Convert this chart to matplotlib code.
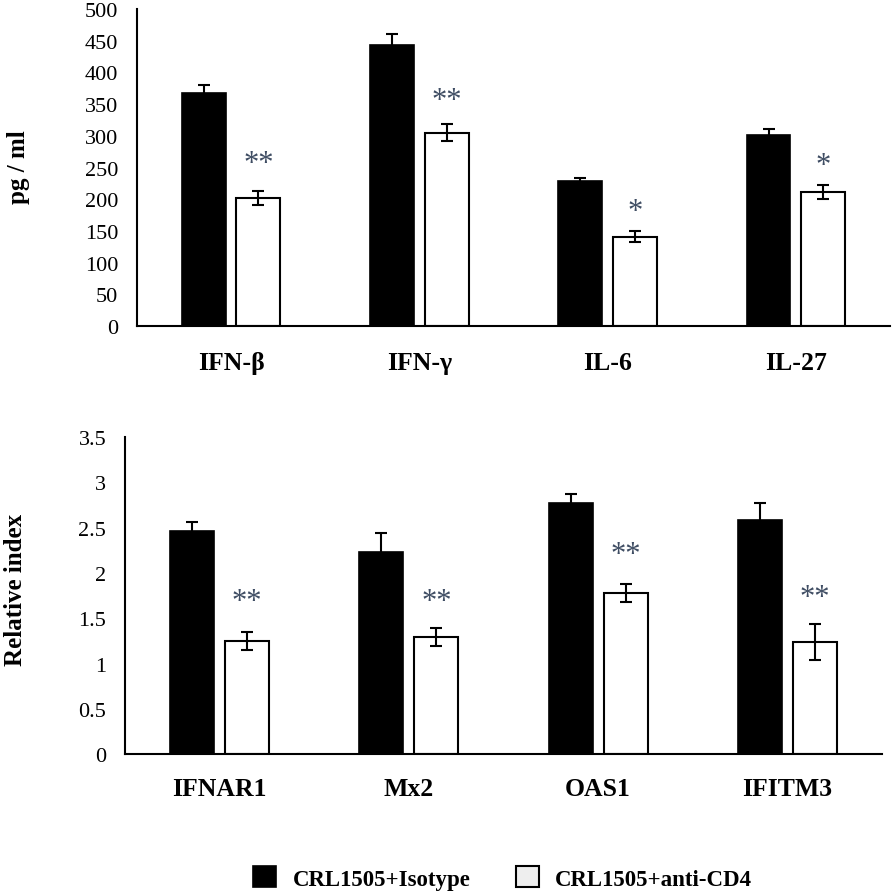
import matplotlib
matplotlib.use("Agg")
import matplotlib.pyplot as plt
from matplotlib.patches import Patch
import numpy as np

# ---- data ----
top_categories = ["IFN-β", "IFN-γ", "IL-6", "IL-27"]
top_isotype = [368, 443, 228, 302]
top_isotype_err = [12, 17, 5, 8]
top_anticd4 = [202, 305, 141, 211]
top_anticd4_err = [11, 13, 9, 11]
top_sig = ["**", "**", "*", "*"]
top_ticks = [0, 50, 100, 150, 200, 250, 300, 350, 400, 450, 500]

bot_categories = ["IFNAR1", "Mx2", "OAS1", "IFITM3"]
bot_isotype = [2.46, 2.23, 2.77, 2.58]
bot_isotype_err = [0.10, 0.21, 0.10, 0.19]
bot_anticd4 = [1.25, 1.29, 1.78, 1.24]
bot_anticd4_err = [0.10, 0.10, 0.10, 0.195]
bot_sig = ["**", "**", "**", "**"]
bot_ticks = [0, 0.5, 1, 1.5, 2, 2.5, 3, 3.5]
bot_ticklabels = ["0", "0.5", "1", "1.5", "2", "2.5", "3", "3.5"]

legend_labels = ["CRL1505+Isotype", "CRL1505+anti-CD4"]

SERIF = ["Liberation Serif", "DejaVu Serif"]
plt.rcParams["font.family"] = SERIF

fig = plt.figure(figsize=(8.93, 8.95), dpi=100)

ax1 = fig.add_axes([0.1534, 0.6346, 0.8432, 0.3542])
ax2 = fig.add_axes([0.1400, 0.1561, 0.8477, 0.3545])

W = 0.233
OFF = 0.145
AST_COLOR = "#3f4d63"


def draw(ax, cats, iso, iso_err, anti, anti_err, sig, ticks, ticklabels,
         ymax, sig_y, label_pad):
    x = np.arange(len(cats))
    ax.bar(x - OFF, iso, W, color="black", edgecolor="black", linewidth=1.2, zorder=2)
    ax.bar(x + OFF, anti, W, color="white", edgecolor="black", linewidth=1.5, zorder=2)
    ax.errorbar(x - OFF, iso, yerr=iso_err, fmt="none", ecolor="black",
                elinewidth=1.5, capsize=4.3, capthick=1.5, zorder=3)
    ax.errorbar(x + OFF, anti, yerr=anti_err, fmt="none", ecolor="black",
                elinewidth=1.5, capsize=4.3, capthick=1.5, zorder=3)
    for xi, s, yv in zip(x, sig, sig_y):
        ax.text(xi + OFF, yv, s, ha="center", va="center", fontsize=22,
                color=AST_COLOR, family=SERIF)
    ax.set_xlim(-0.5, 3.5)
    ax.set_ylim(0, ymax)
    ax.set_yticks(ticks)
    ax.set_yticklabels(ticklabels, fontsize=16)
    ax.set_xticks(x)
    ax.set_xticklabels(cats, fontsize=18.5, fontweight="bold")
    ax.tick_params(axis="y", length=0, pad=13.5)
    ax.tick_params(axis="x", length=0, pad=label_pad)
    for sp in ["top", "right"]:
        ax.spines[sp].set_visible(False)
    for sp in ["left", "bottom"]:
        ax.spines[sp].set_linewidth(1.5)
        ax.spines[sp].set_color("black")


draw(ax1, top_categories, top_isotype, top_isotype_err, top_anticd4, top_anticd4_err,
     top_sig, top_ticks, [str(t) for t in top_ticks], 500, [257, 356, 181, 253], 18)
draw(ax2, bot_categories, bot_isotype, bot_isotype_err, bot_anticd4, bot_anticd4_err,
     bot_sig, bot_ticks, bot_ticklabels, 3.5, [1.69, 1.69, 2.20, 1.73], 16)

fig.text(18 / 893, 1 - 167 / 895, "pg / ml", rotation=90, ha="center", va="center",
         fontsize=18, fontweight="bold")
fig.text(16 / 893, 1 - 590 / 895, "Relative index", rotation=90, ha="center",
         va="center", fontsize=18, fontweight="bold")

handles = [Patch(facecolor="black", edgecolor="black", linewidth=1.2),
           Patch(facecolor="#eeeeee", edgecolor="black", linewidth=1.5)]
fig.legend(handles, legend_labels, loc="center", bbox_to_anchor=(0.563, 1 - 879 / 895),
           ncol=2, frameon=False, prop={"family": SERIF, "weight": "bold", "size": 16.5},
           handlelength=1.0, handleheight=1.0, columnspacing=2.0, handletextpad=0.7)

fig.savefig("out.png", dpi=100)
